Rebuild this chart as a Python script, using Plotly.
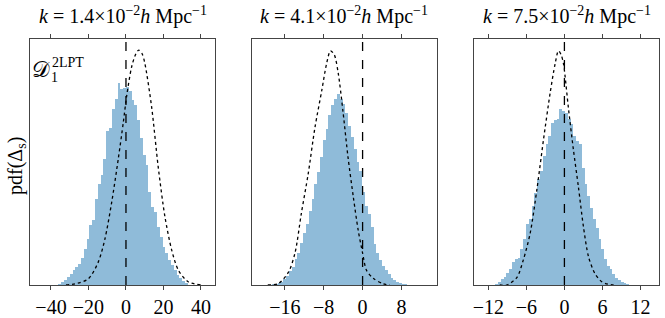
import plotly.graph_objects as go

# ---------------- data ----------------
panel_k = ["1.4", "4.1", "7.5"]

# panel 1 histogram (normalised heights), bins start / width
p1_bin_start = -36.0
p1_bin_width = 1.5
p1_heights = [0.005, 0.011, 0.022, 0.032, 0.043, 0.059, 0.072, 0.086, 0.109, 0.147,
              0.188, 0.242, 0.266, 0.350, 0.411, 0.449, 0.513, 0.628, 0.637, 0.716,
              0.757, 0.822, 0.798, 0.800, 0.805, 0.790, 0.752, 0.732, 0.671, 0.596,
              0.528, 0.488, 0.379, 0.318, 0.298, 0.237, 0.196, 0.156, 0.129, 0.102,
              0.081, 0.061, 0.041, 0.027, 0.018, 0.009]
p1_curve_x = [-32, -27.2, -20.1, -14.8, -11.2, -7.6, -4.1, -1.4, 0.4, 3.0, 5.0, 6.8, 8.6,
              10.1, 13.7, 17.2, 20.8, 24.4, 27.9, 33.2, 40]
p1_curve_y = [0.0, 0.005, 0.025, 0.093, 0.188, 0.337, 0.513, 0.662, 0.770, 0.886, 0.935,
              0.955, 0.940, 0.900, 0.723, 0.480, 0.277, 0.142, 0.061, 0.013, 0.0]

# panel 2
p2_bin_start = -19.2
p2_bin_width = 0.58
p2_heights = [0.002, 0.003, 0.005, 0.008, 0.014, 0.024, 0.036, 0.055, 0.075, 0.104,
              0.130, 0.170, 0.210, 0.250, 0.300, 0.350, 0.410, 0.460, 0.520, 0.590,
              0.635, 0.690, 0.730, 0.757, 0.776, 0.757, 0.737, 0.700, 0.648, 0.600,
              0.554, 0.500, 0.465, 0.377, 0.320, 0.289, 0.235, 0.167, 0.129, 0.100,
              0.079, 0.059, 0.043, 0.029, 0.021, 0.013, 0.009, 0.006, 0.004, 0.002]
p2_curve_x = [-19.5, -17.4, -15.3, -13.9, -12.6, -11.2, -9.8, -8.4, -7.4, -6.6, -5.8,
              -5.0, -4.0, -3.0, -1.9, -0.9, 0.0, 0.8, 2.2, 4.2, 5.6]
p2_curve_y = [0.0, 0.005, 0.05, 0.13, 0.29, 0.45, 0.64, 0.79, 0.90, 0.952, 0.935,
              0.86, 0.70, 0.52, 0.357, 0.222, 0.13, 0.06, 0.027, 0.005, 0.0]

# panel 3
p3_bin_start = -10.9
p3_bin_width = 0.44
p3_heights = [0.003, 0.012, 0.023, 0.034, 0.050, 0.064, 0.093, 0.104, 0.111, 0.148,
              0.186, 0.247, 0.267, 0.321, 0.375, 0.430, 0.463, 0.524, 0.572, 0.606,
              0.660, 0.671, 0.673, 0.714, 0.707, 0.700, 0.673, 0.653, 0.606, 0.585,
              0.572, 0.477, 0.409, 0.362, 0.314, 0.267, 0.233, 0.186, 0.145, 0.104,
              0.077, 0.064, 0.043, 0.030, 0.020, 0.014, 0.007, 0.004, 0.002]
p3_curve_x = [-10.2, -9.1, -7.5, -6.5, -5.4, -4.35, -3.3, -2.25, -1.46, -0.94, -0.5,
              -0.15, 0.1, 0.63, 1.42, 2.2, 3.0, 3.8, 4.8, 5.9, 6.9, 8.0]
p3_curve_y = [0.0, 0.0, 0.03, 0.10, 0.21, 0.386, 0.59, 0.78, 0.90, 0.952, 0.935,
              0.90, 0.85, 0.72, 0.55, 0.40, 0.237, 0.115, 0.047, 0.013, 0.003, 0.0]

ref_line_x = 0.0

tick_vals = [[-40, -20, 0, 20, 40], [-16, -8, 0, 8], [-12, -6, 0, 6, 12]]
x_ranges = [[-51.2, 47.5], [-22.8, 15.3], [-14.3, 14.96]]

hists = [(p1_bin_start, p1_bin_width, p1_heights),
         (p2_bin_start, p2_bin_width, p2_heights),
         (p3_bin_start, p3_bin_width, p3_heights)]
curves = [(p1_curve_x, p1_curve_y), (p2_curve_x, p2_curve_y), (p3_curve_x, p3_curve_y)]

# ---------------- layout geometry ----------------
W, H = 665, 318
panel_px = [(30, 215), (251.7, 437), (473.7, 659.3)]
top_px, bot_px = 39, 285
FONT = "Liberation Serif"
AX = "#444444"


def px_x(p):
    return p / W


def px_y(p):
    return (H - p) / H


fig = go.Figure()

for i in range(3):
    sfx = "" if i == 0 else str(i + 1)
    xa, ya = "x" + sfx, "y" + sfx
    start, width, heights = hists[i]
    centers = [start + width * (j + 0.5) for j in range(len(heights))]
    fig.add_trace(go.Bar(x=centers, y=heights, width=width, xaxis=xa, yaxis=ya,
                         marker=dict(color="rgba(31,119,180,0.5)", line=dict(width=0)),
                         showlegend=False, hoverinfo="skip"))
    cx, cy = curves[i]
    fig.add_trace(go.Scatter(x=cx, y=cy, mode="lines", xaxis=xa, yaxis=ya,
                             line=dict(color="black", width=1.3, dash="dot",
                                       shape="spline", smoothing=0.8),
                             showlegend=False, hoverinfo="skip"))
    fig.add_trace(go.Scatter(x=[ref_line_x, ref_line_x], y=[0, 1], mode="lines",
                             xaxis=xa, yaxis=ya,
                             line=dict(color="black", width=1.3, dash="dash"),
                             showlegend=False, hoverinfo="skip"))
    x0, x1 = panel_px[i]
    dom_x = [px_x(x0), px_x(x1)]
    dom_y = [px_y(bot_px), px_y(top_px)]
    tv = tick_vals[i]
    tt = [("\u2212" + str(abs(v))) if v < 0 else str(v) for v in tv]
    fig.layout["xaxis" + sfx] = dict(
        domain=dom_x, range=x_ranges[i], anchor=ya, tickvals=tv, ticktext=tt,
        ticks="outside", ticklen=4, tickwidth=1, tickcolor=AX,
        showline=True, linecolor=AX, linewidth=1, mirror="ticks",
        showgrid=False, zeroline=False,
        tickfont=dict(family=FONT, size=20, color="black"))
    fig.layout["yaxis" + sfx] = dict(
        domain=dom_y, range=[0, 1], anchor=xa, showticklabels=False, ticks="",
        showline=True, linecolor=AX, linewidth=1, mirror=True,
        showgrid=False, zeroline=False)
    fig.add_annotation(
        x=px_x((x0 + x1) / 2), y=px_y(16), xref="paper", yref="paper",
        text="<i>k</i> = " + panel_k[i] + "\u00d710<sup>\u22122</sup><i>h</i> Mpc<sup>\u22121</sup>",
        showarrow=False, xanchor="center", yanchor="middle",
        font=dict(family=FONT, size=20, color="black"))

# y-axis label
fig.add_annotation(x=px_x(16), y=px_y(166), xref="paper", yref="paper",
                   text="pdf(\u0394<sub>s</sub>)", textangle=-90, showarrow=False,
                   xanchor="center", yanchor="middle",
                   font=dict(family=FONT, size=20, color="black"))
# D_1^{2LPT}
fig.add_annotation(x=px_x(41), y=px_y(70), xref="paper", yref="paper",
                   text="\U0001D49F", showarrow=False, xanchor="center", yanchor="middle",
                   font=dict(family=FONT, size=22, color="black"))
fig.add_annotation(x=px_x(54), y=px_y(78), xref="paper", yref="paper",
                   text="1", showarrow=False, xanchor="center", yanchor="middle",
                   font=dict(family=FONT, size=14, color="black"))
fig.add_annotation(x=px_x(50), y=px_y(63), xref="paper", yref="paper",
                   text="2LPT", showarrow=False, xanchor="left", yanchor="middle",
                   font=dict(family=FONT, size=14, color="black"))

fig.update_layout(width=W, height=H, margin=dict(l=0, r=0, t=0, b=0),
                  paper_bgcolor="white", plot_bgcolor="white",
                  bargap=0, barmode="overlay", hovermode=False)

fig.write_html("out.html", config=dict(displayModeBar=False, staticPlot=True),
               post_script="document.body.style.margin='0px';document.body.style.overflow='hidden';")
